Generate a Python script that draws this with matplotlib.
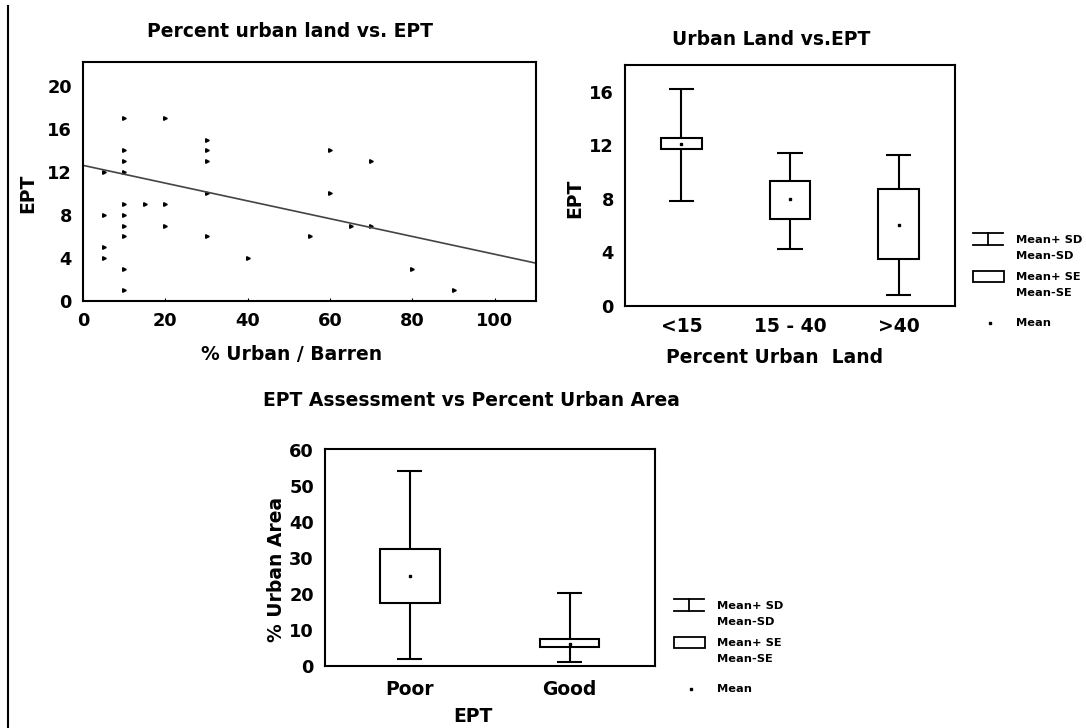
import matplotlib
matplotlib.use('Agg')
import matplotlib.pyplot as plt
import numpy as np
from matplotlib.lines import Line2D
from matplotlib.patches import Rectangle

plt.rcParams['font.family'] = 'DejaVu Sans'
plt.rcParams['font.weight'] = 'bold'

# --- scatter: percent urban land vs EPT ---
urban_pct = [5, 5, 5, 5,
             10, 10, 10, 10, 10, 10, 10, 10, 10, 10,
             15, 20, 20, 20,
             30, 30, 30, 30, 30,
             40, 55, 60, 60, 65, 70, 70, 80, 90]
ept_vals = [12, 8, 5, 4,
            17, 14, 13, 12, 9, 8, 7, 6, 3, 1,
            9, 17, 9, 7,
            15, 14, 13, 10, 6,
            4, 6, 14, 10, 7, 13, 7, 3, 1]
fit_intercept = 12.6
fit_slope = -0.0826

# --- box chart 1: EPT by urban class ---
groups1 = ['<15', '15 - 40', '>40']
mean1 = [12.1, 7.95, 6.0]
sd_lo1 = [7.8, 4.2, 0.75]
sd_hi1 = [16.2, 11.4, 11.25]
se_lo1 = [11.7, 6.5, 3.45]
se_hi1 = [12.5, 9.3, 8.75]

# --- box chart 2: % urban area by EPT assessment ---
groups2 = ['Poor', 'Good']
mean2 = [25.0, 6.0]
sd_lo2 = [2.0, 1.0]
sd_hi2 = [54.2, 20.3]
se_lo2 = [17.6, 5.2]
se_hi2 = [32.5, 7.5]

W, H = 1086, 728
fig = plt.figure(figsize=(W / 100, H / 100), dpi=100)


def rect(l, t, r, b):
    return [l / W, 1 - b / H, (r - l) / W, (b - t) / H]


def ftext(x, y, s, **kw):
    fig.text(x / W, 1 - y / H, s, **kw)


def style_axes(ax):
    for sp in ax.spines.values():
        sp.set_linewidth(1.5)
    ax.tick_params(length=0, pad=8, labelsize=12.8)


def box_chart(ax, mean, sd_lo, sd_hi, se_lo, se_hi, cap):
    pos = np.arange(1, len(mean) + 1)
    ax.vlines(pos, sd_lo, se_lo, color='k', lw=1.5)
    ax.vlines(pos, se_hi, sd_hi, color='k', lw=1.5)
    ax.hlines(sd_lo, pos - cap / 2, pos + cap / 2, color='k', lw=1.5)
    ax.hlines(sd_hi, pos - cap / 2, pos + cap / 2, color='k', lw=1.5)
    ax.bar(pos, np.array(se_hi) - np.array(se_lo), bottom=se_lo, width=0.375,
           facecolor='white', edgecolor='k', linewidth=1.5)
    ax.plot(pos, mean, 's', color='k', ms=1.5)
    return pos


# scatter
ax1 = fig.add_axes(rect(83, 62, 536, 301))
ax1.plot(urban_pct, ept_vals, '>', color='k', ms=2.6)
ax1.set_xlim(0, 110)
ax1.set_ylim(0, 22.2)
xs = np.array(ax1.get_xlim())
ax1.plot(xs, fit_intercept + fit_slope * xs, color='#444444', lw=1.2)
ax1.set_xticks([0, 20, 40, 60, 80, 100])
ax1.set_yticks([0, 4, 8, 12, 16, 20])
style_axes(ax1)
ax1.tick_params(axis='x', length=2, direction='in')

# box chart 1
ax2 = fig.add_axes(rect(625, 65, 955, 305.5))
p = box_chart(ax2, mean1, sd_lo1, sd_hi1, se_lo1, se_hi1, cap=0.235)
ax2.set_xlim(0.48, 3.52)
ax2.set_ylim(0, 18)
ax2.set_yticks([0, 4, 8, 12, 16])
ax2.set_xticks(p)
ax2.set_xticklabels(groups1)
style_axes(ax2)
ax2.tick_params(axis='x', labelsize=13.5)

# box chart 2
ax3 = fig.add_axes(rect(325, 449, 655, 666))
p = box_chart(ax3, mean2, sd_lo2, sd_hi2, se_lo2, se_hi2, cap=0.16)
ax3.set_xlim(0.47, 2.535)
ax3.set_ylim(0, 60.2)
ax3.set_yticks(range(0, 61, 10))
ax3.set_xticks(p)
ax3.set_xticklabels(groups2)
style_axes(ax3)
ax3.tick_params(axis='x', labelsize=13.5, pad=10)

# titles and axis labels
ftext(290, 36.7, 'Percent urban land vs. EPT', fontsize=13.5, ha='center', va='baseline')
ftext(292, 360, '% Urban / Barren', fontsize=13.5, ha='center', va='baseline')
ftext(33, 193, 'EPT', fontsize=13.5, rotation=90, rotation_mode='anchor',
      ha='center', va='baseline')

ftext(771, 45, 'Urban Land vs.EPT', fontsize=13.5, ha='center', va='baseline')
ftext(775, 363, 'Percent Urban  Land', fontsize=13.5, ha='center', va='baseline')
ftext(580, 198, 'EPT', fontsize=13.5, rotation=90, rotation_mode='anchor',
      ha='center', va='baseline')

ftext(471, 406, 'EPT Assessment vs Percent Urban Area', fontsize=13.5, ha='center', va='baseline')
ftext(473, 722, 'EPT', fontsize=13.5, ha='center', va='baseline')
ftext(282, 569, '% Urban Area', fontsize=13.5, rotation=90, rotation_mode='anchor',
      ha='center', va='baseline')


def draw_key(x0, y0):
    def seg(xa, ya, xb, yb):
        fig.add_artist(Line2D([xa / W, xb / W], [1 - ya / H, 1 - yb / H], color='k', lw=1.3))
    seg(x0, y0, x0 + 30, y0)
    seg(x0, y0 + 12, x0 + 30, y0 + 12)
    seg(x0 + 15, y0, x0 + 15, y0 + 12)
    fig.add_artist(Rectangle((x0 / W, 1 - (y0 + 49) / H), 31 / W, 11 / H,
                             transform=fig.transFigure, facecolor='white',
                             edgecolor='k', lw=1.3))
    fig.add_artist(Line2D([(x0 + 17) / W], [1 - (y0 + 89.5) / H], marker='s',
                          ms=1.5, color='k'))
    labels = ['Mean+ SD', 'Mean-SD', 'Mean+ SE', 'Mean-SE', 'Mean']
    offs = [10, 26, 46.5, 62.5, 93.5]
    for lab, dy in zip(labels, offs):
        ftext(x0 + 43, y0 + dy, lab, fontsize=8.2, ha='left', va='baseline')


draw_key(973, 233)
draw_key(674, 599)

# left frame line
fig.add_artist(Line2D([8 / W, 8 / W], [1 - 6 / H, 0], color='k', lw=1.5))

fig.savefig('out.png', dpi=100)
